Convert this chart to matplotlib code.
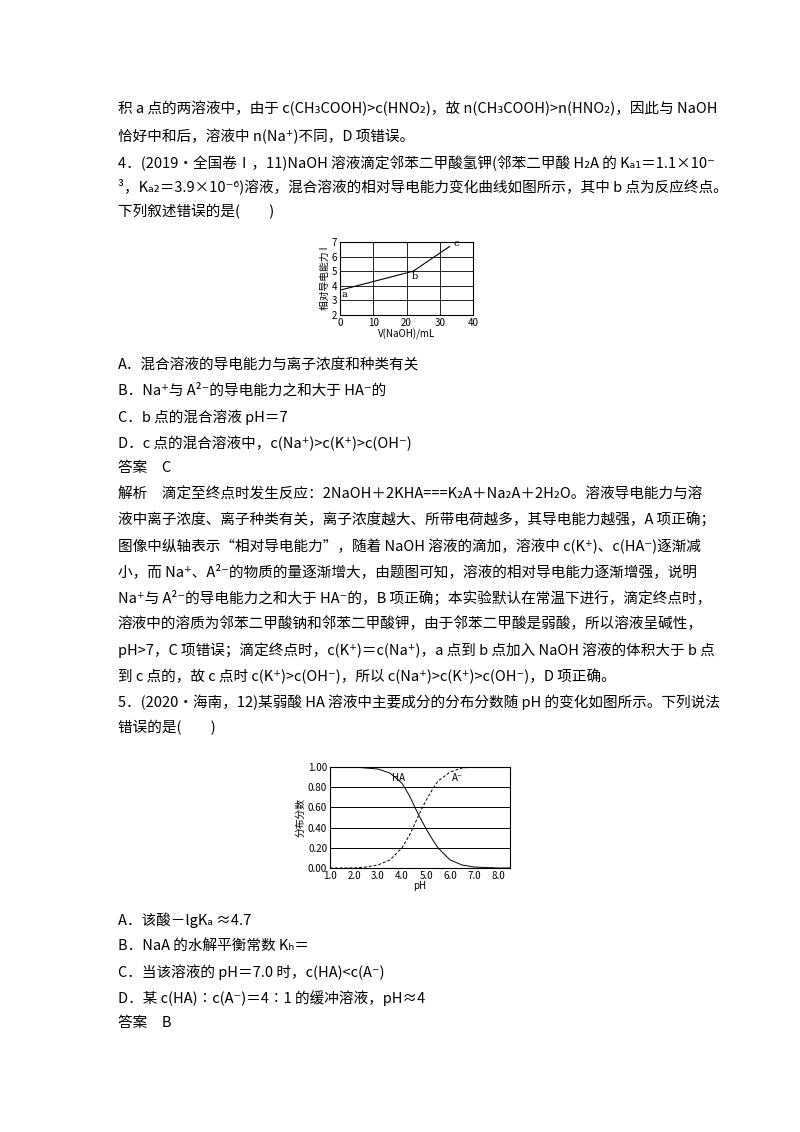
import matplotlib
matplotlib.use("Agg")
import matplotlib.pyplot as plt

plt.rcParams['font.family'] = ['Noto Sans CJK SC', 'DejaVu Sans']

# ---- 图1：相对导电能力 ----
v_naoh = [0, 22, 33]
cond = [3.7, 5.0, 6.7]
pt_labels = ["a", "b", "c"]
pt_xy = [(0.6, 3.25), (21.5, 4.45), (34, 6.7)]

# ---- 图2：分布分数 ----
ph = [1.0, 2.0, 2.5, 3.0, 3.5, 4.0, 4.3, 4.5, 4.75, 5.0, 5.3, 5.5, 6.0, 6.5, 7.0, 8.0, 8.5]
frac_ha = [1.0, 1.0, 0.99, 0.98, 0.94, 0.84, 0.72, 0.62, 0.50, 0.39, 0.27, 0.20, 0.08, 0.03, 0.01, 0.0, 0.0]
frac_a = [0.0, 0.0, 0.01, 0.03, 0.08, 0.20, 0.32, 0.42, 0.55, 0.67, 0.79, 0.86, 0.95, 0.99, 1.0, 1.0, 1.0]

W, H = 800, 1132
fig = plt.figure(figsize=(8, 11.32), dpi=100)
fig.patch.set_facecolor("white")

def t(x, y, s, **kw):
    fig.text(x / W, 1 - y / H, s, fontsize=10.5, va="center", ha="left", **kw)

L = 118
lines = [
    (108, "积 a 点的两溶液中，由于 c(CH₃COOH)>c(HNO₂)，故 n(CH₃COOH)>n(HNO₂)，因此与 NaOH"),
    (136, "恰好中和后，溶液中 n(Na⁺)不同，D 项错误。"),
    (163, "4．(2019·全国卷Ⅰ，11)NaOH 溶液滴定邻苯二甲酸氢钾(邻苯二甲酸 H₂A 的 Kₐ₁＝1.1×10⁻"),
    (186, "³，Kₐ₂＝3.9×10⁻⁶)溶液，混合溶液的相对导电能力变化曲线如图所示，其中 b 点为反应终点。"),
    (212, "下列叙述错误的是(　　)"),
    (365, "A．混合溶液的导电能力与离子浓度和种类有关"),
    (391, "B．Na⁺与 A²⁻的导电能力之和大于 HA⁻的"),
    (417, "C．b 点的混合溶液 pH＝7"),
    (443, "D．c 点的混合溶液中，c(Na⁺)>c(K⁺)>c(OH⁻)"),
    (468, "答案　C"),
    (494, "解析　滴定至终点时发生反应：2NaOH＋2KHA===K₂A＋Na₂A＋2H₂O。溶液导电能力与溶"),
    (520, "液中离子浓度、离子种类有关，离子浓度越大、所带电荷越多，其导电能力越强，A 项正确；"),
    (546, "图像中纵轴表示“相对导电能力”，随着 NaOH 溶液的滴加，溶液中 c(K⁺)、c(HA⁻)逐渐减"),
    (572, "小，而 Na⁺、A²⁻的物质的量逐渐增大，由题图可知，溶液的相对导电能力逐渐增强，说明"),
    (598, "Na⁺与 A²⁻的导电能力之和大于 HA⁻的，B 项正确；本实验默认在常温下进行，滴定终点时，"),
    (624, "溶液中的溶质为邻苯二甲酸钠和邻苯二甲酸钾，由于邻苯二甲酸是弱酸，所以溶液呈碱性，"),
    (650, "pH>7，C 项错误；滴定终点时，c(K⁺)＝c(Na⁺)，a 点到 b 点加入 NaOH 溶液的体积大于 b 点"),
    (676, "到 c 点的，故 c 点时 c(K⁺)>c(OH⁻)，所以 c(Na⁺)>c(K⁺)>c(OH⁻)，D 项正确。"),
    (702, "5．(2020·海南，12)某弱酸 HA 溶液中主要成分的分布分数随 pH 的变化如图所示。下列说法"),
    (728, "错误的是(　　)"),
    (920, "A．该酸－lgKₐ ≈4.7"),
    (946, "B．NaA 的水解平衡常数 Kₕ＝"),
    (972, "C．当该溶液的 pH＝7.0 时，c(HA)<c(A⁻)"),
    (998, "D．某 c(HA)∶c(A⁻)＝4∶1 的缓冲溶液，pH≈4"),
    (1023, "答案　B"),
]
# 原图中的段落 4 行位于 y=163，段落 5 题干在 y=702/728 处（修正后的坐标）
for y, s in lines:
    if s.startswith("5．"):
        y = 728 if False else y
    t(L, y, s)

# fix: 题5 两行实际位置
# (已在列表中给出)

# ---- 图1 ----
ax1 = fig.add_axes([340 / W, 1 - 315 / H, 133 / W, 73 / H])
ax1.plot(v_naoh, cond, color="black", lw=0.8)
for s, (x, y) in zip(pt_labels, pt_xy):
    ax1.text(x, y, s, fontsize=7, family="DejaVu Serif")
ax1.set_xlim(0, 40)
ax1.set_ylim(2, 7)
ax1.set_xticks(range(0, 41, 10))
ax1.set_yticks(range(2, 8))
ax1.grid(True, color="black", lw=0.6)
ax1.tick_params(labelsize=7, length=0, pad=2)
ax1.set_xlabel("V(NaOH)/mL", fontsize=7, labelpad=1)
ax1.set_ylabel("相对导电能力 I", fontsize=7, labelpad=1)
for sp in ax1.spines.values():
    sp.set_linewidth(0.8)

# ---- 图2 ----
ax2 = fig.add_axes([330 / W, 1 - 868 / H, 180 / W, 101 / H])
ax2.plot(ph, frac_ha, color="black", lw=0.7)
ax2.plot(ph, frac_a, color="black", lw=0.7, ls=(0, (3, 2)))
ax2.text(3.6, 0.86, "HA", fontsize=7)
ax2.text(6.1, 0.86, "A⁻", fontsize=7)
ax2.set_xlim(1.0, 8.5)
ax2.set_ylim(0, 1.0)
ax2.set_xticks([1, 2, 3, 4, 5, 6, 7, 8])
ax2.set_xticklabels([f"{v:.1f}" for v in range(1, 9)])
ax2.set_yticks([0, 0.2, 0.4, 0.6, 0.8, 1.0])
ax2.set_yticklabels(["0.00", "0.20", "0.40", "0.60", "0.80", "1.00"])
ax2.yaxis.grid(True, color="black", lw=0.7)
ax2.tick_params(labelsize=7, length=0, pad=2)
ax2.set_xlabel("pH", fontsize=7, labelpad=0)
ax2.set_ylabel("分布分数", fontsize=7, labelpad=2)
for sp in ax2.spines.values():
    sp.set_linewidth(0.8)

fig.savefig("out.png", dpi=100, facecolor="white")
